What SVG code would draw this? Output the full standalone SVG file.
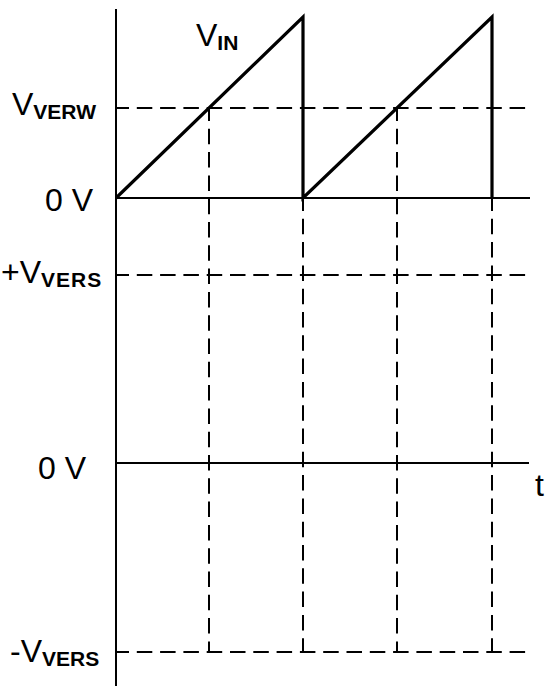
<svg xmlns="http://www.w3.org/2000/svg" width="547" height="686" viewBox="0 0 547 686">
<style>
.lbl{font-family:"Liberation Sans",Arial,sans-serif;font-size:32px;fill:#000}
.sub{font-family:"Liberation Sans",Arial,sans-serif;font-size:21px;font-weight:bold;fill:#000}
.solid{stroke:#000;stroke-width:2;fill:none}
.wave{stroke:#000;stroke-width:3.2;fill:none;stroke-linejoin:miter}
.dash{stroke:#000;stroke-width:2;fill:none;stroke-dasharray:15.5 7.8;stroke-dashoffset:2.5}
</style>
<rect width="547" height="686" fill="#fff"/>
<g id="connectors">
<line class="solid" x1="116" y1="9" x2="116" y2="686"/>
<line class="solid" x1="116" y1="198" x2="530" y2="198"/>
<line class="solid" x1="116" y1="463" x2="529" y2="463"/>
<line class="dash" x1="116" y1="108" x2="530" y2="108"/>
<line class="dash" x1="116" y1="275" x2="530" y2="275"/>
<line class="dash" x1="116" y1="652" x2="530" y2="652"/>
<line class="dash" x1="209" y1="108" x2="209" y2="652"/>
<line class="dash" x1="303" y1="198" x2="303" y2="652"/>
<line class="dash" x1="397" y1="108" x2="397" y2="652"/>
<line class="dash" x1="492" y1="198" x2="492" y2="652"/>
</g>
<g id="waveform">
<polyline class="wave" points="116,198 303,17 303,198 492,17 492,198"/>
</g>
<g id="label-vin"><text class="lbl" x="196" y="46">V<tspan class="sub" dy="4">IN</tspan></text></g>
<g id="label-vverw"><text class="lbl" x="12" y="115">V<tspan class="sub" dy="4">VERW</tspan></text></g>
<g id="label-0v-top"><text class="lbl" x="45" y="211" xml:space="preserve">0 V</text></g>
<g id="label-pvvers"><text class="lbl" x="1" y="283">+V<tspan class="sub" dy="4" letter-spacing="1">VERS</tspan></text></g>
<g id="label-0v-bottom"><text class="lbl" x="38" y="479" xml:space="preserve">0 V</text></g>
<g id="label-t"><text class="lbl" x="535" y="496">t</text></g>
<g id="label-nvvers"><text class="lbl" x="10" y="662">-V<tspan class="sub" dy="4">VERS</tspan></text></g>
</svg>
